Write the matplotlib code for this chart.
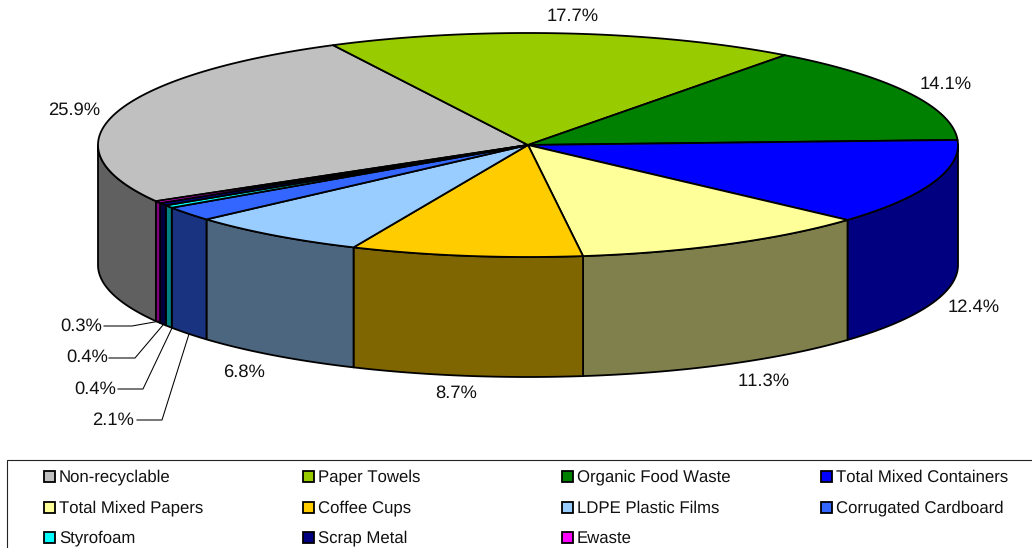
import numpy as np
import matplotlib
matplotlib.use("Agg")
import matplotlib.pyplot as plt
from matplotlib.patches import Polygon, Rectangle
from matplotlib.colors import to_rgb

plt.rcParams['font.family'] = ['Liberation Sans', 'DejaVu Sans']
plt.rcParams['text.hinting'] = 'no_hinting'
plt.rcParams['text.kerning_factor'] = 6

categories = ["Non-recyclable", "Paper Towels", "Organic Food Waste", "Total Mixed Containers",
              "Total Mixed Papers", "Coffee Cups", "LDPE Plastic Films", "Corrugated Cardboard",
              "Styrofoam", "Scrap Metal", "Ewaste"]
values = [25.9, 17.7, 14.1, 12.4, 11.3, 8.7, 6.8, 2.1, 0.4, 0.4, 0.3]
labels = ["25.9%", "17.7%", "14.1%", "12.4%", "11.3%", "8.7%", "6.8%", "2.1%", "0.4%", "0.4%", "0.3%"]
colors = ["#C0C0C0", "#99CC00", "#008000", "#0000FF", "#FFFF99", "#FFCC00", "#99CCFF",
          "#3366FF", "#00FFFF", "#000080", "#FF00FF"]

# layout (pixel coordinates of the figure)
W, H = 1032, 548
CX, CY, RX, RY, DEPTH = 528, 145, 430, 112, 120
START = -120.1
LW = 1.3
label_pos = [(74, 110.5), (573, 16.5), (946, 84.5), (974, 307.5), (764, 381.5), (456, 393.5), (244, 372.5),
             (113, 420.5), (95, 389.5), (87, 357.5), (81, 326.5)]
leaders = {7: [(137, 420), (162, 420), (189, 334)],
           8: [(118, 389), (143, 389), (172, 328)],
           9: [(109, 358), (135, 358), (163, 325)],
           10: [(104, 326), (132, 326), (160, 321)]}
legend_cols = [44, 303, 562, 821]
legend_rows = [476, 507, 537]

fig = plt.figure(figsize=(W / 100, H / 100), dpi=100)
ax = fig.add_axes([0, 0, 1, 1])
ax.set_xlim(0, W)
ax.set_ylim(H, 0)
ax.axis("off")


def rim(a0, a1, dy=0.0):
    n = max(2, int(abs(a1 - a0) * 2) + 2)
    t = np.radians(np.linspace(a0, a1, n))
    return np.column_stack([CX + RX * np.sin(t), CY - RY * np.cos(t) + dy])


edges = START + np.concatenate([[0], np.cumsum(values)]) * 360.0 / sum(values)

# side walls: only the front half of the cylinder is visible
for i, c in enumerate(colors):
    dark = tuple(0.5 * v for v in to_rgb(c))
    for lo, hi in [(-270, -90), (90, 270)]:
        a0, a1 = max(edges[i], lo), min(edges[i + 1], hi)
        if a1 > a0:
            pts = np.vstack([rim(a0, a1), rim(a1, a0, DEPTH)])
            ax.add_patch(Polygon(pts, closed=True, facecolor=dark, edgecolor="black",
                                 linewidth=LW, joinstyle="round", zorder=2))

# top face
for i, c in enumerate(colors):
    pts = np.vstack([[CX, CY], rim(edges[i], edges[i + 1])])
    ax.add_patch(Polygon(pts, closed=True, facecolor=c, edgecolor="black",
                         linewidth=LW, joinstyle="round", zorder=3))

# data labels and leader lines
for i, (txt, (x, y)) in enumerate(zip(labels, label_pos)):
    ax.text(x, y, txt, fontsize=13.2, color="#111111", ha="center", va="center", zorder=5)
for pts in leaders.values():
    xs, ys = zip(*pts)
    ax.plot(xs, ys, color="black", linewidth=0.75, zorder=4)

# legend
ax.add_patch(Rectangle((7, 460), W + 20, 100, facecolor="white", edgecolor="#222222",
                       linewidth=0.8, zorder=1))
for i, (name, c) in enumerate(zip(categories, colors)):
    x = legend_cols[i % 4]
    y = legend_rows[i // 4]
    ax.add_patch(Rectangle((x, y - 5.5), 11, 11, facecolor=c, edgecolor="black",
                           linewidth=1.3, zorder=4))
    ax.text(x + 15, y + 1, name, fontsize=12.1, color="#111111", ha="left", va="center", zorder=5)

fig.savefig("out.png", dpi=100)
